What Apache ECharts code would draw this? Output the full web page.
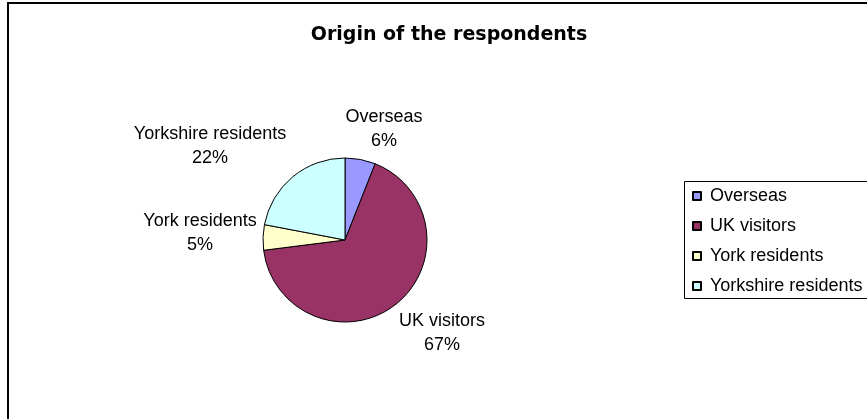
<!DOCTYPE html>
<html>
<head>
<meta charset="utf-8">
<script src="https://cdn.jsdelivr.net/npm/echarts@6/dist/echarts.min.js"></script>
<style>
  html, body { margin: 0; padding: 0; background: #fff; }
  #chart { width: 867px; height: 419px; }
</style>
</head>
<body>
<div id="chart"></div>
<script>
// Respondent origin shares (percent)
const categories = ['Overseas', 'UK visitors', 'York residents', 'Yorkshire residents'];
const shares = [6, 67, 5, 22];
const sliceColors = ['#9999FF', '#993366', '#FFFFCC', '#CCFFFF'];

// Pie geometry and the offsets of each data label block from the pie centre
const pieCenter = [345, 240];
const pieRadius = 82;
const labelOffsets = [[39, -111], [97, 93], [-145, -7], [-135, -94]];

const chart = echarts.init(document.getElementById('chart'));
const font = 'Liberation Sans, Arial, sans-serif';

chart.setOption({
  animation: false,
  backgroundColor: '#fff',
  title: {
    text: 'Origin of the respondents',
    left: 444,
    top: 21,
    textAlign: 'center',
    textStyle: { fontFamily: 'DejaVu Sans, sans-serif', fontSize: 19, fontWeight: 'bold', color: '#000' }
  },
  graphic: [
    // outer chart frame
    { type: 'rect', shape: { x: 8, y: 3, width: 900, height: 460 },
      style: { fill: 'none', stroke: '#000', lineWidth: 2 }, silent: true },
    // legend box
    { type: 'rect', shape: { x: 684.5, y: 181.5, width: 220, height: 117 },
      style: { fill: '#fff', stroke: '#000', lineWidth: 1 }, silent: true, z: 1 }
  ],
  legend: {
    orient: 'vertical',
    left: 692,
    top: 186,
    padding: 0,
    itemWidth: 8,
    itemHeight: 8,
    itemGap: 10,
    icon: 'rect',
    z: 5,
    textStyle: { fontFamily: font, fontSize: 18, lineHeight: 20, color: '#000', padding: [0, 0, 0, 4] },
    data: categories
  },
  series: [{
    type: 'pie',
    center: pieCenter,
    radius: pieRadius,
    startAngle: 90,
    clockwise: true,
    color: sliceColors,
    itemStyle: { borderColor: '#000', borderWidth: 1 },
    label: {
      show: true,
      position: 'outside',
      formatter: '{b}\n{d}%',
      fontFamily: font,
      fontSize: 18,
      lineHeight: 24,
      color: '#000'
    },
    labelLine: { show: false },
    labelLayout: function (params) {
      const off = labelOffsets[params.dataIndex];
      return {
        x: pieCenter[0] + off[0],
        y: pieCenter[1] + off[1],
        align: 'center',
        verticalAlign: 'middle'
      };
    },
    emphasis: { disabled: true },
    data: categories.map((name, i) => ({ name, value: shares[i] }))
  }]
});
</script>
</body>
</html>
